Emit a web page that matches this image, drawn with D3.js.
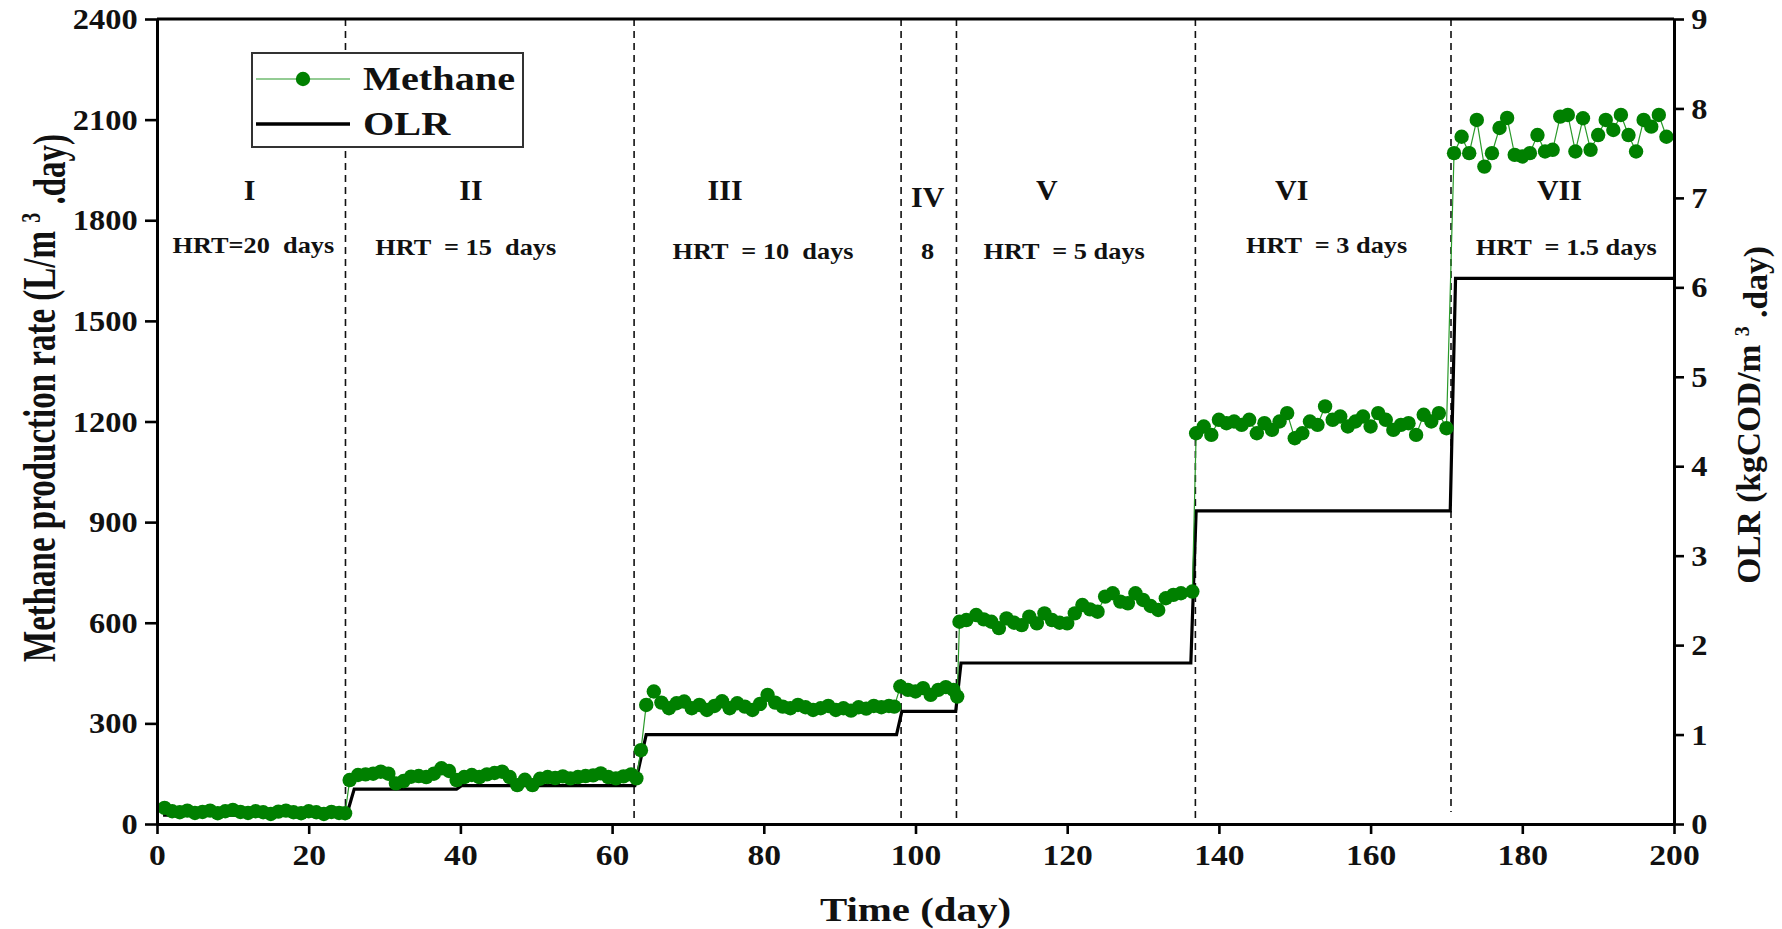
<!DOCTYPE html>
<html>
<head>
<meta charset="utf-8">
<script src="https://cdn.jsdelivr.net/npm/d3@7"></script>
<style>
  body { margin: 0; background: #fff; }
  svg text { font-family: "Liberation Serif", "Times New Roman", serif; font-weight: bold; fill: #111; white-space: pre; }
</style>
</head>
<body>
<svg width="1782" height="929"></svg>
<script>
// methane production rate, L/m3.day
const methaneDay = [
  1,2,3,4,5,6,7,8,9,10,11,12,13,14,15,16,17,18,19,20,21,22,23,24,24.8,
  25.4,26.5,27.5,28.5,29.5,30.5,31.5,32.5,33.5,34.5,35.5,36.5,37.5,38.5,39.5,40.5,41.5,42.5,43.5,44.5,
  45.5,46.5,47.5,48.5,49.5,50.5,51.5,52.5,53.5,54.5,55.5,56.5,57.5,58.5,59.5,60.5,61.5,62.5,63.2,
  63.8,64.5,65.5,66.5,67.5,68.5,69.5,70.5,71.5,72.5,73.5,74.5,75.5,76.5,77.5,78.5,79.5,80.5,81.5,82.5,
  83.5,84.5,85.5,86.5,87.5,88.5,89.5,90.5,91.5,92.5,93.5,94.5,95.5,96.5,97.2,
  98,99,100,101,102,103,104,105,105.5,
  105.8,106.7,108,109,110,111,112,113,114,115,116,117,118,119,120,121,122,123,124,125,126,127,128,129,
  130,131,132,133,134,135,136.5,
  137,138,139,140,141,142,143,144,145,146,147,148,149,150,151,152,153,154,155,156,157,158,159,160,161,
  162,163,164,165,166,167,168,169,170,
  171,172,173,174,175,176,177,178,179,180,181,182,183,184,185,186,187,188,189,190,191,192,193,194,195,
  196,197,198,199
];
const methaneRate = [
  48,38,35,40,33,36,40,32,38,42,36,33,38,35,30,37,40,35,32,38,35,30,36,33,32,
  131,146,148,150,156,150,121,128,141,143,140,150,166,158,131,140,146,140,148,152,
  156,140,116,132,116,135,140,137,142,136,140,143,145,151,140,136,142,148,136,
  220,355,395,362,345,360,365,345,355,340,352,366,345,360,350,340,358,385,362,350,
  345,355,348,340,345,352,340,345,338,348,344,352,348,352,350,
  410,400,395,405,385,400,408,400,380,
  603,608,623,610,603,584,613,600,593,618,598,628,608,600,598,628,653,640,633,678,688,663,658,688,
  668,650,638,673,683,688,693,
  1165,1185,1160,1205,1195,1200,1190,1205,1165,1195,1175,1200,1225,1150,1165,1200,1190,1245,1205,1215,1185,1200,1215,1185,1225,
  1205,1175,1190,1195,1160,1220,1200,1225,1180,
  2000,2049,2000,2099,1960,2000,2075,2105,1995,1990,2000,2054,2005,2010,2109,2114,2005,2104,2010,2054,2099,2069,2114,2054,2005,
  2099,2079,2114,2049
];

// organic loading rate, kgCOD/m3.day
const olrDay   = [0.8, 25, 26, 39.5, 40.2, 63, 64.5, 97.5, 98.2, 105.3, 106, 136.3, 137, 170.5, 171.2, 200];
const olrValue = [0.1, 0.1, 0.39, 0.39, 0.43, 0.43, 1.0, 1.0, 1.26, 1.26, 1.8, 1.8, 3.5, 3.5, 6.1, 6.1];

// phase boundaries and labels
const phaseBreaks = [24.85, 62.9, 98.1, 105.4, 136.9, 170.6];
const phaseNames  = ['I', 'II', 'III', 'IV', 'V', 'VI', 'VII'];
const phaseHrt    = ['HRT=20  days', 'HRT  = 15  days', 'HRT  = 10  days', '8', 'HRT  = 5 days', 'HRT  = 3 days', 'HRT  = 1.5 days'];

const xTicks = [0, 20, 40, 60, 80, 100, 120, 140, 160, 180, 200];
const leftTicks = [0, 300, 600, 900, 1200, 1500, 1800, 2100, 2400];
const rightTicks = [0, 1, 2, 3, 4, 5, 6, 7, 8, 9];

const svg = d3.select('svg');
const padL = 157, padR = 1674, padT = 19, padB = 824;

const x = d3.scaleLinear().domain([0, 200]).range([padL, padR]);
const yL = d3.scaleLinear().domain([0, 2400]).range([padB, padT]);
const yR = d3.scaleLinear().domain([0, 9]).range([padB, padT]);

// label placement (in data units) - not perfectly centred in the original
const nameDay = [12.2, 41.4, 74.9, 101.6, 117.3, 149.6, 184.9];
const nameVal = [1860, 1860, 1860, 1840, 1860, 1860, 1860];
const hrtDay  = [12.7, 40.7, 79.9, 101.6, 119.6, 154.2, 185.8];
const hrtVal  = [1702, 1696, 1684, 1684, 1684, 1702, 1696];

// dashed phase lines
svg.selectAll('.phase')
  .data(phaseBreaks)
  .enter()
  .append('line')
  .attr('x1', d => x(d)).attr('x2', d => x(d))
  .attr('y1', padT).attr('y2', (d, i) => i === phaseBreaks.length - 1 ? padB - 12 : padB)
  .attr('stroke', '#111')
  .attr('stroke-width', 1.6)
  .attr('stroke-dasharray', '7,5');

// OLR step line
const olr = olrDay.map((d, i) => [d, olrValue[i]]);
svg.append('path')
  .attr('d', d3.line().x(d => x(d[0])).y(d => yR(d[1]))(olr))
  .attr('fill', 'none')
  .attr('stroke', '#000')
  .attr('stroke-width', 3.2);

// methane line + markers
const methane = methaneDay.map((d, i) => [d, methaneRate[i]]);
svg.append('path')
  .attr('d', d3.line().x(d => x(d[0])).y(d => yL(d[1]))(methane))
  .attr('fill', 'none')
  .attr('stroke', '#2a9a2a')
  .attr('stroke-width', 1.2);

svg.selectAll('.pt')
  .data(methane)
  .enter()
  .append('circle')
  .attr('cx', d => x(d[0]))
  .attr('cy', d => yL(d[1]))
  .attr('r', 7.2)
  .attr('fill', '#008000');

// axes
function styleAxis(g, k) {
  g.select('.domain').attr('stroke', '#000').attr('stroke-width', 3);
  g.selectAll('.tick line').attr('stroke', '#000').attr('stroke-width', 2.6);
  g.selectAll('.tick text')
    .attr('fill', '#111')
    .style('font-size', '30px')
    .attr('transform', 'scale(' + k + ',1)');
}

const fmt = d3.format('d');

svg.append('g')
  .attr('transform', 'translate(0,' + padB + ')')
  .call(d3.axisBottom(x).tickValues(xTicks).tickFormat(fmt).tickSize(10).tickSizeOuter(0).tickPadding(10))
  .call(g => styleAxis(g, 1.12));

svg.append('g')
  .attr('transform', 'translate(' + padL + ',0)')
  .call(d3.axisLeft(yL).tickValues(leftTicks).tickFormat(fmt).tickSize(12).tickSizeOuter(0).tickPadding(6))
  .call(g => styleAxis(g, 1.08));

svg.append('g')
  .attr('transform', 'translate(' + padR + ',0)')
  .call(d3.axisRight(yR).tickValues(rightTicks).tickFormat(fmt).tickSize(10).tickSizeOuter(0).tickPadding(6))
  .call(g => styleAxis(g, 1.08));

svg.append('line')
  .attr('x1', padL).attr('x2', padR)
  .attr('y1', padT).attr('y2', padT)
  .attr('stroke', '#000').attr('stroke-width', 3);

// phase labels
svg.selectAll('.pname')
  .data(phaseNames)
  .enter()
  .append('text')
  .attr('x', (d, i) => x(nameDay[i]))
  .attr('y', (d, i) => yL(nameVal[i]))
  .attr('text-anchor', 'middle')
  .style('font-size', '30px')
  .text(d => d);

svg.selectAll('.phrt')
  .data(phaseHrt)
  .enter()
  .append('text')
  .attr('transform', (d, i) => 'translate(' + x(hrtDay[i]) + ',' + yL(hrtVal[i]) + ') scale(1.12,1)')
  .attr('text-anchor', 'middle')
  .style('font-size', '23.5px')
  .text(d => d);

// axis titles
svg.append('text')
  .attr('transform', 'translate(' + ((padL + padR) / 2) + ',921) scale(1.24,1)')
  .attr('text-anchor', 'middle')
  .style('font-size', '33px')
  .text('Time (day)');

const yTitle = svg.append('text')
  .attr('transform', 'translate(55,398) scale(1.38,1) rotate(-90)')
  .attr('text-anchor', 'middle')
  .style('font-size', '33px');
yTitle.append('tspan').text('Methane production rate (L/m ');
yTitle.append('tspan').attr('dy', '-0.55em').style('font-size', '20px').text('3');
yTitle.append('tspan').attr('dy', '0.55em').text(' .day)');

const rTitle = svg.append('text')
  .attr('transform', 'translate(1760,415) rotate(-90)')
  .attr('text-anchor', 'middle')
  .style('font-size', '33.5px');
rTitle.append('tspan').text('OLR (kgCOD/m ');
rTitle.append('tspan').attr('dy', '-0.55em').style('font-size', '20px').text('3');
rTitle.append('tspan').attr('dy', '0.55em').text(' .day)');

// legend
const lg = svg.append('g');
lg.append('rect')
  .attr('x', 252).attr('y', 53).attr('width', 271).attr('height', 94)
  .attr('fill', '#fff').attr('stroke', '#333').attr('stroke-width', 2);
lg.append('line')
  .attr('x1', 256).attr('x2', 350).attr('y1', 79).attr('y2', 79)
  .attr('stroke', '#2a9a2a').attr('stroke-width', 1.2);
lg.append('circle').attr('cx', 303).attr('cy', 79).attr('r', 7.2).attr('fill', '#008000');
lg.append('line')
  .attr('x1', 256).attr('x2', 350).attr('y1', 124).attr('y2', 124)
  .attr('stroke', '#000').attr('stroke-width', 3.5);
lg.append('text')
  .attr('transform', 'translate(363,90) scale(1.22,1)')
  .style('font-size', '33px')
  .text('Methane');
lg.append('text')
  .attr('transform', 'translate(363,135) scale(1.22,1)')
  .style('font-size', '33px')
  .text('OLR');
</script>
</body>
</html>
